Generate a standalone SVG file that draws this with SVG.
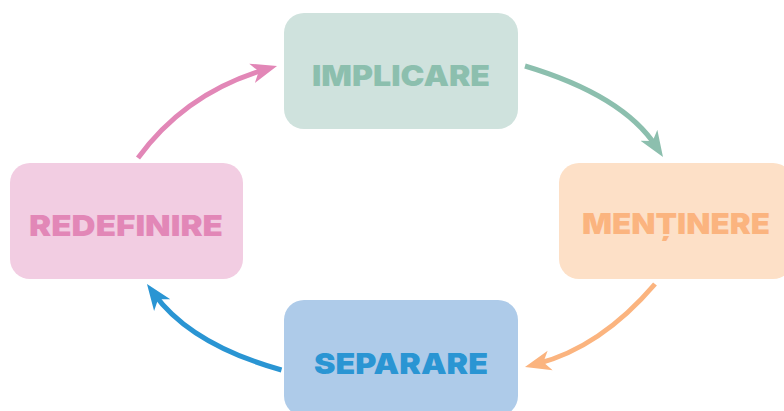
<svg xmlns="http://www.w3.org/2000/svg" width="784" height="411" viewBox="0 0 784 411">
<style>
.lbl{font-family:Inter,"DejaVu Sans","Liberation Sans",sans-serif;font-weight:900;font-size:29px;text-anchor:middle}
.conn{fill:none;stroke-width:5}
</style>
<defs>
<marker id="mT" markerUnits="userSpaceOnUse" markerWidth="26" markerHeight="22" viewBox="0 0 26 22" refX="14" refY="11" orient="auto"><path d="M26,11 L0,1 L7,11 L0,21 Z" fill="#8cbfae"/></marker>
<marker id="mO" markerUnits="userSpaceOnUse" markerWidth="26" markerHeight="22" viewBox="0 0 26 22" refX="14" refY="11" orient="auto"><path d="M26,11 L0,1 L7,11 L0,21 Z" fill="#fbb47f"/></marker>
<marker id="mB" markerUnits="userSpaceOnUse" markerWidth="26" markerHeight="22" viewBox="0 0 26 22" refX="14" refY="11" orient="auto"><path d="M26,11 L0,1 L7,11 L0,21 Z" fill="#2a95d3"/></marker>
<marker id="mP" markerUnits="userSpaceOnUse" markerWidth="26" markerHeight="22" viewBox="0 0 26 22" refX="14" refY="11" orient="auto"><path d="M26,11 L0,1 L7,11 L0,21 Z" fill="#e287b7"/></marker>
</defs>
<rect width="784" height="411" fill="#ffffff"/>
<g id="connectors">
<path class="conn" stroke="#8cbfae" d="M525,66 Q623.4,95.5 656.5,147" marker-end="url(#mT)"/>
<path class="conn" stroke="#fbb47f" d="M655,284 Q600.9,347.3 536.6,364" marker-end="url(#mO)"/>
<path class="conn" stroke="#2a95d3" d="M281.5,370 Q190.7,344.5 154,293.7" marker-end="url(#mB)"/>
<path class="conn" stroke="#e287b7" d="M138,158 Q185.6,92.7 265.5,69.4" marker-end="url(#mP)"/>
</g>
<g id="implicare">
<rect x="284" y="13" width="234" height="116" rx="20" fill="#cfe2dd"/>
<text class="lbl" x="401" y="86" fill="#8cbfae" textLength="178" lengthAdjust="spacingAndGlyphs">IMPLICARE</text>
</g>
<g id="mentinere">
<rect x="559" y="163" width="234" height="116" rx="20" fill="#fde0c7"/>
<text class="lbl" x="676" y="234" fill="#fbb47f" textLength="188" lengthAdjust="spacingAndGlyphs">MENȚINERE</text>
</g>
<g id="separare">
<rect x="284" y="300" width="234" height="116" rx="20" fill="#aecbe9"/>
<text class="lbl" x="401" y="374" fill="#2a95d3" textLength="174" lengthAdjust="spacingAndGlyphs">SEPARARE</text>
</g>
<g id="redefinire">
<rect x="10" y="163" width="233" height="116" rx="20" fill="#f2cde2"/>
<text class="lbl" x="126" y="236" fill="#e287b7" textLength="194" lengthAdjust="spacingAndGlyphs">REDEFINIRE</text>
</g>
</svg>
